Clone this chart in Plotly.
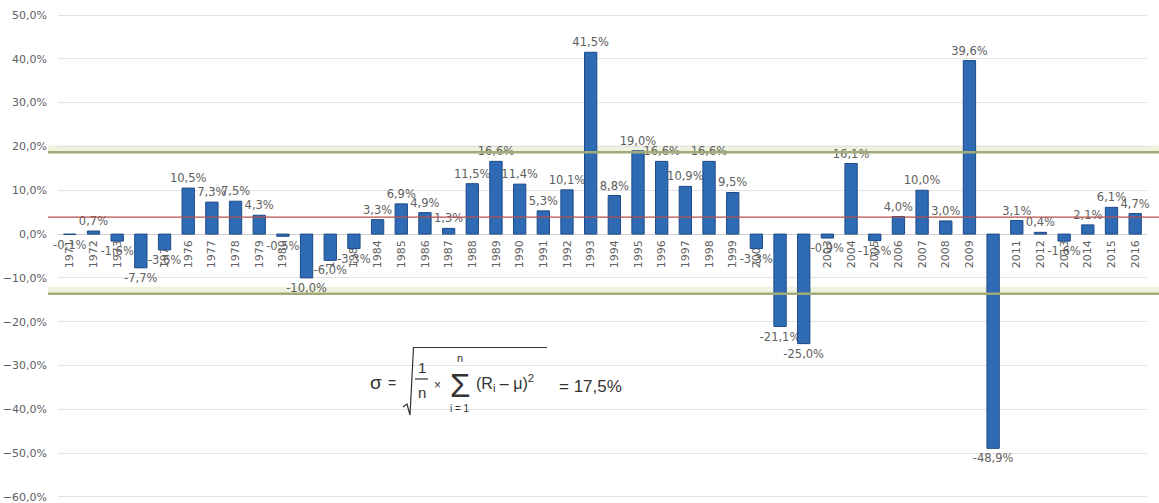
import numpy as np
import plotly.graph_objects as go

# Annual returns, 1971-2016 (%)
years = [str(y) for y in range(1971, 2017)]
returns = [
    -0.1, 0.7, -1.6, -7.7, -3.6, 10.5, 7.3, 7.5, 4.3, -0.5,
    -10.0, -6.0, -3.3, 3.3, 6.9, 4.9, 1.3, 11.5, 16.6, 11.4,
    5.3, 10.1, 41.5, 8.8, 19.0, 16.6, 10.9, 16.6, 9.5, -3.3,
    -21.1, -25.0, -0.9, 16.1, -1.5, 4.0, 10.0, 3.0, 39.6, -48.9,
    3.1, 0.4, -1.6, 2.1, 6.1, 4.7,
]
band_upper = 18.7
band_lower = -13.6
sigma_text = "17,5%"

# small padding so the end gridlines (50 % and -60 %) are drawn
y_min, y_max = -60.23, 50.23
mean_return = float(np.mean(returns))

W, H = 1159, 503
ML, MR, MT, MB = 58, 12, 14, 5
PW, PH = W - ML - MR, H - MT - MB


def fx(px):
    return (px - ML) / PW


def fy(py):
    return (H - MB - py) / PH


GRAY = "#606060"
FONT = "DejaVu Sans"
FFONT = "Liberation Sans"

fig = go.Figure()
fig.add_trace(go.Bar(
    x=years,
    y=returns,
    marker=dict(color="#2f6ab5", line=dict(color="#1d4a86", width=1)),
    texttemplate="%{y:.1f}%",
    textposition="outside",
    constraintext="none",
    cliponaxis=False,
    textfont=dict(family=FONT, size=11.5, color=GRAY),
    hoverinfo="skip",
))

shapes = []
# green reference bands: pale fill behind the bars, olive rule on top
for lvl in (band_upper, band_lower):
    shapes.append(dict(type="rect", xref="paper", yref="y",
                       x0=fx(48), x1=fx(1159), y0=lvl, y1=lvl + 1.6,
                       fillcolor="#eff2df", line=dict(width=0), layer="between"))
    shapes.append(dict(type="line", xref="paper", yref="y",
                       x0=fx(48), x1=fx(1159), y0=lvl, y1=lvl,
                       line=dict(color="#a2ab78", width=2.5), layer="above"))
# mean line
shapes.append(dict(type="line", xref="paper", yref="y",
                   x0=fx(48), x1=fx(1159), y0=mean_return, y1=mean_return,
                   line=dict(color="#b5504c", width=1.3), layer="above"))

# radical sign of the formula
rad = [(403, 407), (407, 404), (410, 415), (413.5, 347.5), (547, 347.5)]
path = "M " + " L ".join(f"{fx(a):.5f},{fy(b):.5f}" for a, b in rad)
shapes.append(dict(type="path", xref="paper", yref="paper", path=path,
                   line=dict(color="#333333", width=1.2), layer="above"))
# fraction bar
shapes.append(dict(type="line", xref="paper", yref="paper",
                   x0=fx(415), x1=fx(428), y0=fy(379), y1=fy(379),
                   line=dict(color="#333333", width=1.2), layer="above"))


def txt(s, px, py, size, xanchor="center"):
    return dict(text=s, xref="paper", yref="paper", x=fx(px), y=fy(py),
                xanchor=xanchor, yanchor="middle", showarrow=False,
                font=dict(family=FFONT, size=size, color="#333333"))


annotations = [
    txt("σ", 376, 382, 19),
    txt("=", 392, 383, 14),
    txt("1", 421.5, 367, 15),
    txt("n", 421.5, 392, 15),
    txt("×", 437.5, 385, 12),
    txt("n", 460, 358, 11),
    txt("Σ", 460, 385, 33),
    txt("i = 1", 460, 408, 10),
    txt("(R<sub>i</sub> – μ)<sup>2</sup>", 474, 383, 16, xanchor="left"),
    txt("= " + sigma_text, 557, 386, 17, xanchor="left"),
]

fig.update_layout(
    width=W, height=H,
    margin=dict(l=ML, r=MR, t=MT, b=MB, pad=0, autoexpand=False),
    paper_bgcolor="white", plot_bgcolor="white",
    separators=", ",
    showlegend=False,
    bargap=0.48,
    shapes=shapes,
    annotations=annotations,
    font=dict(family=FONT, color=GRAY),
    xaxis=dict(
        type="category",
        range=[-0.5, len(years) - 0.5],
        anchor="free",
        position=(0 - y_min) / (y_max - y_min),
        tickangle=-90,
        tickfont=dict(family=FONT, size=11, color=GRAY),
        showgrid=False,
        showline=False,
        ticks="",
        ticklabelstandoff=3,
        automargin=False,
        layer="below traces",
    ),
    yaxis=dict(
        range=[y_min, y_max],
        tick0=0,
        dtick=10,
        tickformat=".1f",
        ticksuffix="%",
        tickfont=dict(family=FONT, size=11, color=GRAY),
        gridcolor="#e3e3e3",
        gridwidth=1,
        zeroline=True,
        zerolinecolor="#d0d0d0",
        zerolinewidth=1,
        ticks="",
        ticklabelstandoff=10,
        ticklabeloverflow="allow",
        automargin=False,
        layer="below traces",
    ),
)

fig.write_html("out.html")
